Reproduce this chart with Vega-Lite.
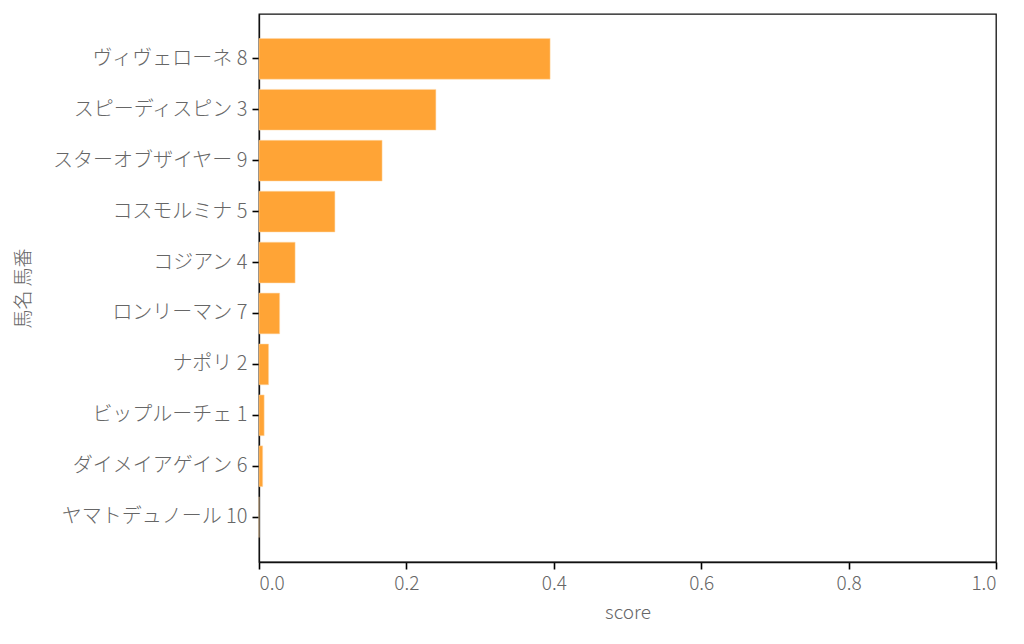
{
  "$schema": "https://vega.github.io/schema/vega-lite/v6.json",
  "width": 737,
  "height": 548,
  "autosize": "none",
  "padding": {"left": 259, "top": 14, "right": 28, "bottom": 82},
  "background": "white",
  "config": {
    "view": {"stroke": "#111111", "strokeWidth": 1.3},
    "font": "Noto Sans CJK JP",
    "axis": {
      "labelFont": "Noto Sans CJK JP",
      "titleFont": "Noto Sans CJK JP",
      "labelFontWeight": 300,
      "titleFontWeight": 300,
      "labelFontSize": 20,
      "titleFontSize": 19,
      "labelColor": "#666666",
      "titleColor": "#666666",
      "labelLimit": 0,
      "domainColor": "#111111",
      "domainWidth": 1.3,
      "grid": false
    }
  },
  "data": {
    "values": [
      {"name": "ヴィヴェローネ 8", "score": 0.395},
      {"name": "スピーディスピン 3", "score": 0.240},
      {"name": "スターオブザイヤー 9", "score": 0.167},
      {"name": "コスモルミナ 5", "score": 0.103},
      {"name": "コジアン 4", "score": 0.049},
      {"name": "ロンリーマン 7", "score": 0.028},
      {"name": "ナポリ 2", "score": 0.013},
      {"name": "ビップルーチェ 1", "score": 0.007},
      {"name": "ダイメイアゲイン 6", "score": 0.005},
      {"name": "ヤマトデュノール 10", "score": 0}
    ]
  },
  "mark": {"type": "bar", "color": "#ffa436", "stroke": "#ffd9a8", "strokeWidth": 0.5},
  "encoding": {
    "y": {
      "field": "name",
      "type": "nominal",
      "sort": null,
      "title": "馬名 馬番",
      "scale": {"paddingInner": 0.2, "paddingOuter": 0.48},
      "axis": {"labelPadding": 5, "titlePadding": 26, "ticks": true, "tickSize": 7, "tickWidth": 1.6, "tickColor": "#000000", "labelLimit": 0}
    },
    "x": {
      "field": "score",
      "type": "quantitative",
      "title": "score",
      "scale": {"domain": [0, 1], "nice": false},
      "axis": {"values": [0, 0.2, 0.4, 0.6, 0.8, 1.0], "format": ".1f", "ticks": true, "tickSize": 7, "tickWidth": 1.6, "tickColor": "#000000", "labelFontSize": 19, "labelPadding": 5, "titlePadding": 10}
    }
  }
}
